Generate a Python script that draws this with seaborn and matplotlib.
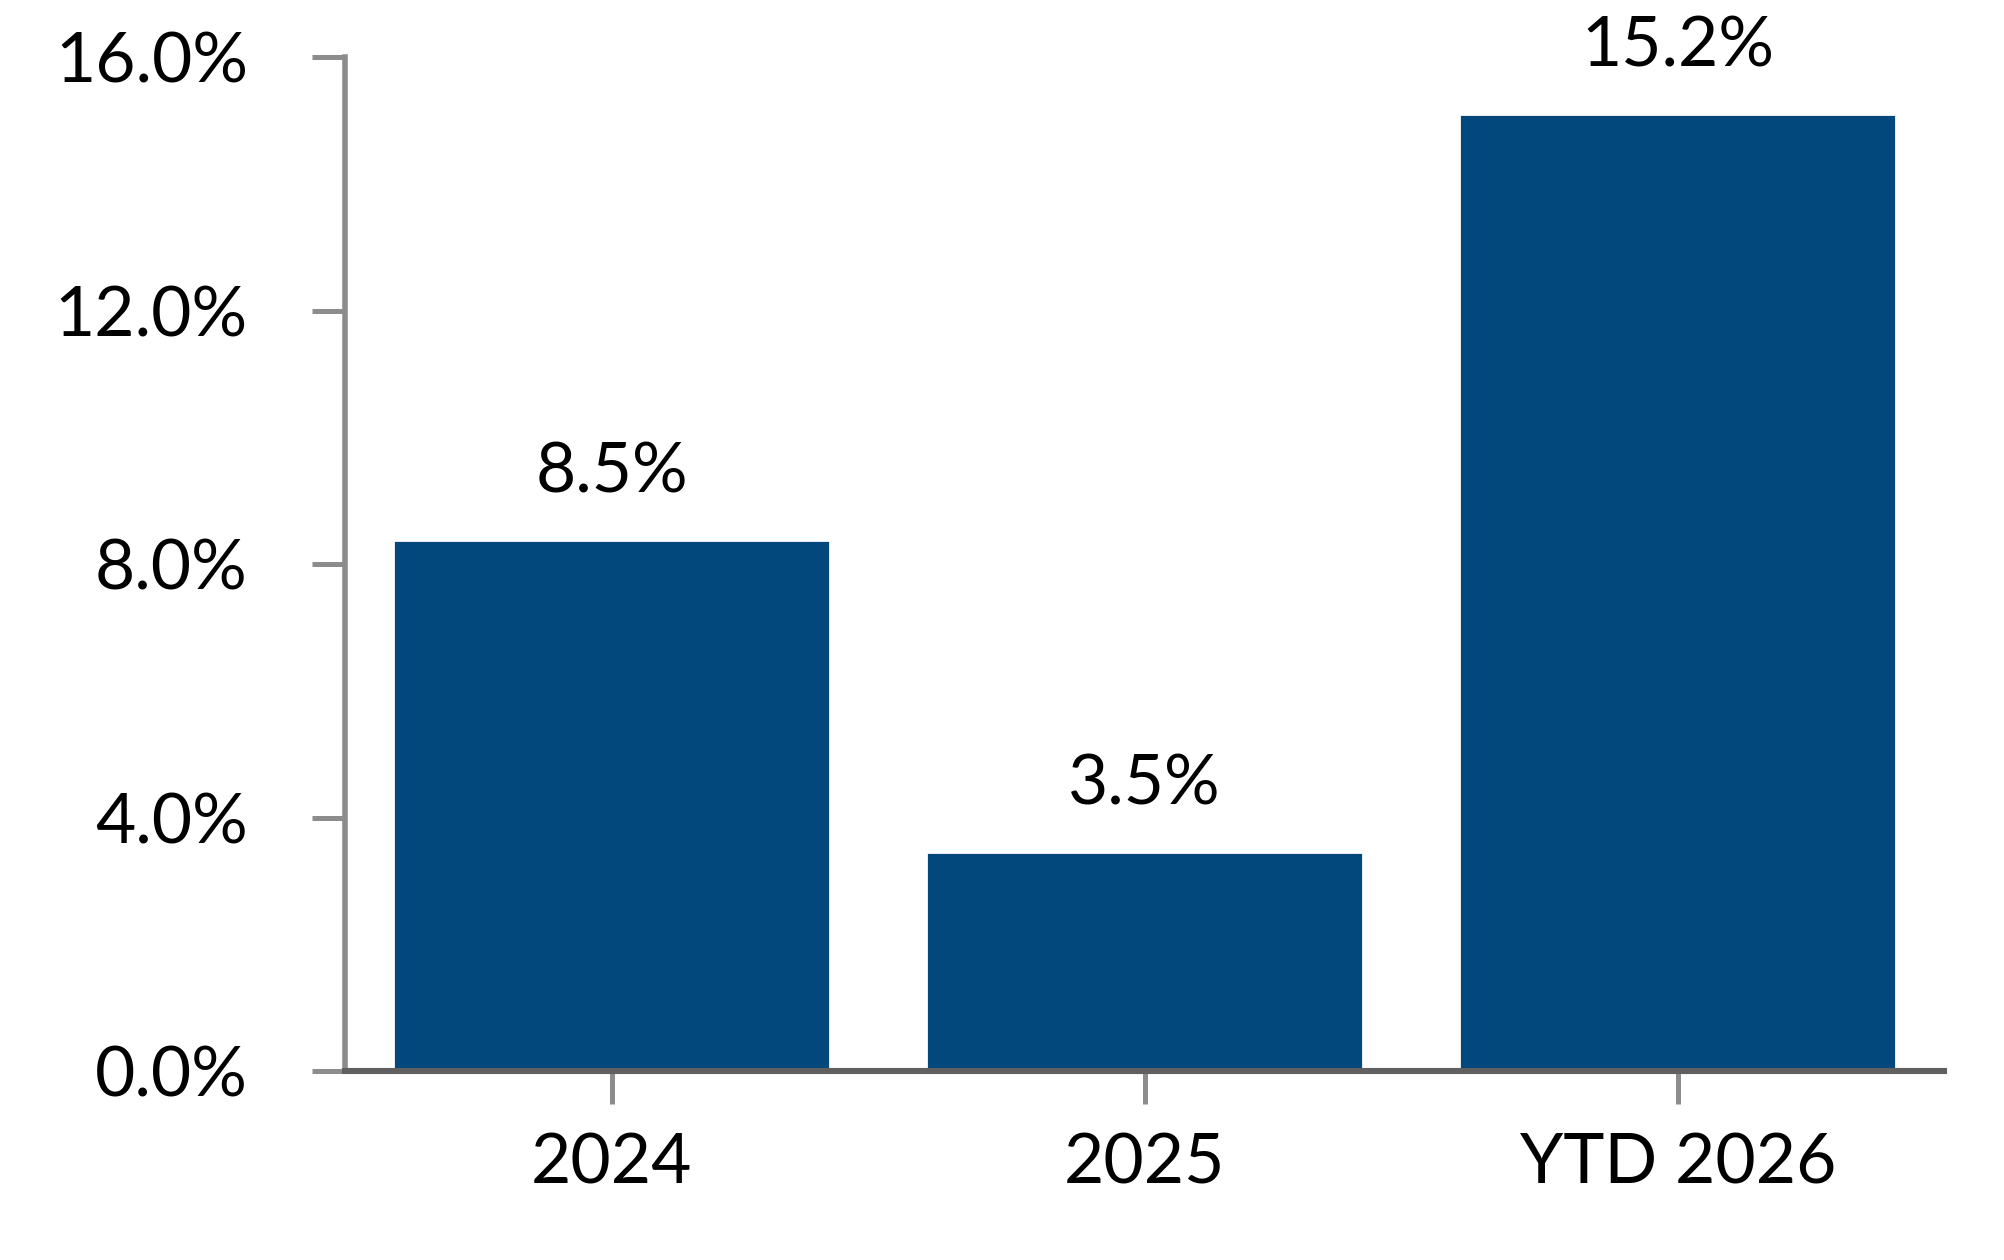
import matplotlib
matplotlib.use("Agg")
import matplotlib.pyplot as plt
import seaborn as sns

# data
categories = ["2024", "2025", "YTD 2026"]
values = [8.38, 3.46, 15.11]
bar_labels = ["8.5%", "3.5%", "15.2%"]
y_ticks = [0, 4, 8, 12, 16]

BAR_COLOR = "#03487C"
SPINE_LIGHT = "#8C8C8C"
SPINE_DARK = "#606060"
FS = 25

sns.set_style("white")
plt.rcParams['font.family'] = ['Lato', 'DejaVu Sans']

fig = plt.figure(figsize=(10.02, 6.3), dpi=200)
ax = fig.add_axes([0.1722, 0.15, 0.798, 0.8044])

sns.barplot(x=categories, y=values, color=BAR_COLOR, saturation=1,
            width=0.82, ax=ax, zorder=2)

# value labels above bars
for i, (v, lab) in enumerate(zip(values, bar_labels)):
    ax.annotate(lab, (i, v), xytext=(0, 17), textcoords="offset points",
                ha="center", va="baseline", fontsize=FS, color="black")

ax.set_xlim(-0.5, 2.5)
ax.set_ylim(0, 16)
ax.set_yticks(y_ticks)
ax.set_yticklabels([f"{t:.1f}%" for t in y_ticks])
ax.set_xlabel("")
ax.set_ylabel("")

# axis styling
for side in ["top", "right"]:
    ax.spines[side].set_visible(False)
ax.spines["left"].set_color(SPINE_LIGHT)
ax.spines["left"].set_linewidth(2.0)
ax.spines["bottom"].set_color(SPINE_DARK)
ax.spines["bottom"].set_linewidth(2.2)
ax.spines["bottom"].set_zorder(3)

ax.tick_params(axis="y", direction="out", length=12, width=1.8,
               color=SPINE_LIGHT, pad=23, labelsize=FS, labelcolor="black",
               left=True)
ax.tick_params(axis="x", direction="out", length=12, width=1.8,
               color=SPINE_LIGHT, pad=10, labelsize=FS, labelcolor="black",
               bottom=True)

fig.savefig("out.png", dpi=200, facecolor="white")
